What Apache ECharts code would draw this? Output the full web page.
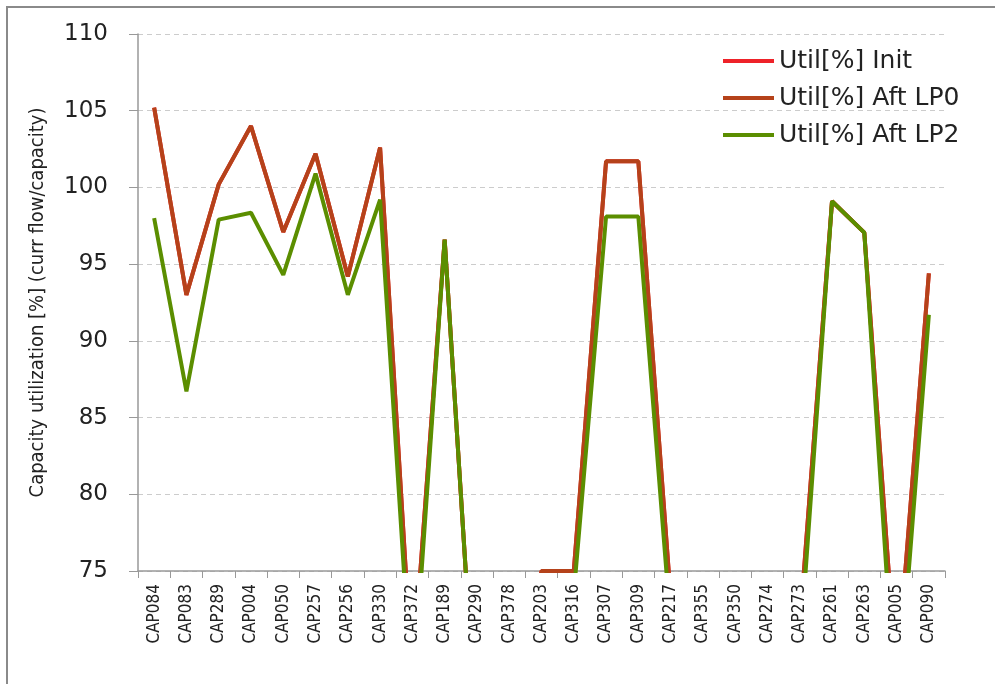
<!DOCTYPE html>
<html>
<head>
<meta charset="utf-8">
<script src="https://cdn.jsdelivr.net/npm/echarts@6/dist/echarts.min.js"></script>
<style>
  html, body { margin: 0; padding: 0; background: #fff; }
  #chart { width: 995px; height: 684px; }
</style>
</head>
<body>
<div id="chart"></div>
<script>
// 数据
const categories = ['CAP084', 'CAP083', 'CAP289', 'CAP004', 'CAP050', 'CAP257', 'CAP256', 'CAP330',
    'CAP372', 'CAP189', 'CAP290', 'CAP378', 'CAP203', 'CAP316', 'CAP307', 'CAP309', 'CAP217',
    'CAP355', 'CAP350', 'CAP274', 'CAP273', 'CAP261', 'CAP263', 'CAP005', 'CAP090'];

const utilInit = [105.2, 93.0, 100.2, 104.0, 97.1, 102.2, 94.2, 102.6, 67.9, 96.6, 63.5, 62.0, 75.0,
    75.0, 101.7, 101.7, 73.3, 60.0, 60.0, 62.0, 71.4, 99.1, 97.05, 67.8, 94.4];
const utilLP0 = [105.2, 93.0, 100.2, 104.0, 97.1, 102.2, 94.2, 102.6, 67.9, 96.6, 63.5, 62.0, 75.0,
    75.0, 101.7, 101.7, 73.3, 60.0, 60.0, 62.0, 71.4, 99.1, 97.05, 67.8, 94.4];
const utilLP2 = [98.0, 86.7, 97.9, 98.35, 94.3, 100.9, 93.0, 99.2, 66.4, 96.6, 63.5, 60.0, 62.0,
    73.5, 98.1, 98.1, 71.5, 60.0, 58.0, 60.0, 69.6, 99.1, 97.05, 64.9, 91.7];

const seriesNames = ['Util[%] Init', 'Util[%] Aft LP0', 'Util[%] Aft LP2'];
const seriesColors = ['#ee2229', '#b5421a', '#5b8e00'];

const narrowFont = '"DejaVu Sans Condensed", "Liberation Sans Narrow", Roboto, sans-serif';

const chart = echarts.init(document.getElementById('chart'));

const option = {
    animation: false,
    graphic: [
        {
            type: 'rect',
            shape: { x: 7, y: 7, width: 1000, height: 700 },
            style: { fill: 'none', stroke: '#8a8a8a', lineWidth: 2 },
            silent: true
        }
    ],
    legend: {
        orient: 'vertical',
        left: 718,
        top: 43,
        icon: 'rect',
        itemWidth: 51,
        itemHeight: 4,
        itemGap: 11,
        data: seriesNames,
        textStyle: {
            fontFamily: 'DejaVu Sans',
            fontSize: 25,
            color: '#222',
            lineHeight: 26
        }
    },
    grid: {
        left: 138,
        top: 34,
        right: 50,
        bottom: 113
    },
    xAxis: {
        type: 'category',
        data: categories,
        boundaryGap: true,
        axisLine: { lineStyle: { color: '#999', width: 1.5 } },
        axisTick: { show: true, interval: 0, length: 7, lineStyle: { color: '#999' } },
        axisLabel: {
            interval: 0,
            rotate: 90,
            margin: 13,
            fontFamily: narrowFont,
            fontSize: 17,
            color: '#222'
        }
    },
    yAxis: {
        type: 'value',
        min: 75,
        max: 110,
        interval: 5,
        name: 'Capacity utilization [%] (curr flow/capacity)',
        nameLocation: 'middle',
        nameRotate: 90,
        nameGap: 90,
        nameTextStyle: {
            fontFamily: narrowFont,
            fontSize: 20,
            color: '#222'
        },
        axisLine: { show: true, lineStyle: { color: '#999', width: 1.5 } },
        axisTick: { show: true, length: 9, lineStyle: { color: '#999' } },
        axisLabel: {
            margin: 30,
            fontFamily: 'DejaVu Sans',
            fontSize: 23,
            color: '#222'
        },
        splitLine: { lineStyle: { color: '#cccccc', type: [5, 4] } }
    },
    series: [
        {
            name: seriesNames[0],
            type: 'line',
            data: utilInit,
            symbol: 'none',
            lineStyle: { color: seriesColors[0], width: 4 },
            itemStyle: { color: seriesColors[0] }
        },
        {
            name: seriesNames[1],
            type: 'line',
            data: utilLP0,
            symbol: 'none',
            lineStyle: { color: seriesColors[1], width: 4 },
            itemStyle: { color: seriesColors[1] }
        },
        {
            name: seriesNames[2],
            type: 'line',
            data: utilLP2,
            symbol: 'none',
            lineStyle: { color: seriesColors[2], width: 4 },
            itemStyle: { color: seriesColors[2] }
        }
    ]
};

chart.setOption(option);
window.addEventListener('resize', () => chart.resize());
</script>
</body>
</html>
